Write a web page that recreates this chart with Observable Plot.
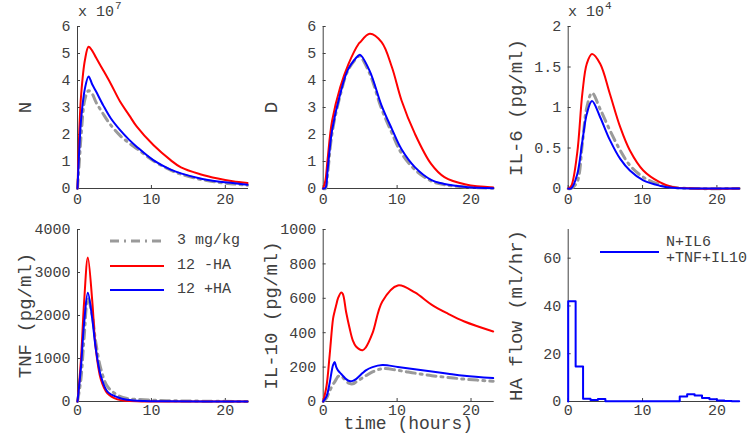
<!DOCTYPE html>
<html><head><meta charset="utf-8">
<script src="https://cdn.jsdelivr.net/npm/d3@7"></script>
<script src="https://cdn.jsdelivr.net/npm/@observablehq/plot@0.6"></script>
<style>
body{margin:0;background:#fff;}
#fig{position:relative;width:750px;height:433px;overflow:hidden;font-family:'Liberation Mono',monospace;color:#404040;background:#fff;}
g[aria-label="y-axis label"]{font-size:19px;}
g[aria-label="x-axis label"]{font-size:18px;}
.note{position:absolute;font-size:15px;white-space:nowrap;line-height:18px;}
.note .ex{position:relative;top:-7px;font-size:11px;margin-left:1px;}
.sw{position:absolute;}
</style></head><body><div id="fig"></div>
<script>
// ---------- data ----------
const xTicks = [0, 10, 20];
const seriesNames = ["3 mg/kg", "12 -HA", "12 +HA"];

// N (x 1e7)
const nTime = [0, 0.25, 0.5, 1, 1.5, 2, 2.5, 3.5, 4.5, 5.8, 7, 8, 10.3, 12.6, 14, 16.6, 19, 21, 23];
const n3   = [0, 1.0, 2.0, 3.3, 3.62, 3.5, 3.2, 2.75, 2.35, 1.95, 1.68, 1.48, 1.02, 0.68, 0.53, 0.34, 0.23, 0.17, 0.12];
const n12  = [0, 2.2, 3.5, 4.75, 5.25, 5.1, 4.85, 4.37, 3.88, 3.2, 2.71, 2.3, 1.6, 1.05, 0.78, 0.53, 0.37, 0.27, 0.2];
const n12H = [0, 1.5, 2.6, 3.7, 4.15, 3.85, 3.6, 3.07, 2.6, 2.15, 1.8, 1.55, 1.04, 0.7, 0.56, 0.37, 0.26, 0.2, 0.14];
const nTicks = [0, 1, 2, 3, 4, 5, 6];

// D
const dTime = [0, 0.3, 0.6, 1.2, 2.3, 3.4, 4.8, 5, 6.3, 7.9, 9.3, 10.6, 12.4, 14.6, 16.4, 19.3, 23];
const d3mg = [0, 0, 0.55, 2.05, 3.45, 4.4, 4.9, 4.9, 4.25, 2.95, 2.05, 1.3, 0.7, 0.28, 0.14, 0.05, 0.01];
const d12  = [0, 0.3, 1.1, 2.5, 3.75, 4.6, 5.36, 5.42, 5.73, 5.42, 4.49, 3.26, 2.03, 0.91, 0.42, 0.15, 0.04];
const d12H = [0, 0.02, 0.7, 2.15, 3.5, 4.43, 4.93, 4.95, 4.35, 3.07, 2.2, 1.45, 0.79, 0.32, 0.17, 0.06, 0.01];
const dTicks = [0, 1, 2, 3, 4, 5, 6];

// IL-6 (x 1e4 pg/ml)
const il6Time = [0, 0.4, 1.2, 1.9, 2.5, 3.2, 4.3, 5.6, 7, 8.3, 10.1, 12.3, 14, 17, 23];
const il6_3   = [0, 0, 0.08, 0.55, 1.0, 1.18, 0.98, 0.72, 0.47, 0.285, 0.14, 0.05, 0.015, 0, 0];
const il6_12  = [0, 0.03, 0.43, 1.17, 1.54, 1.66, 1.54, 1.17, 0.757, 0.469, 0.222, 0.078, 0.02, 0, 0];
const il6_12H = [0, 0, 0.17, 0.58, 0.92, 1.08, 0.88, 0.6, 0.365, 0.222, 0.1, 0.035, 0.01, 0, 0];
const il6Ticks = [0, 0.5, 1, 1.5, 2];

// TNF (pg/ml)
const tnfTime = [0, 0.45, 0.9, 1.4, 2.0, 2.45, 3.15, 4.05, 5.4, 6.7, 9, 12, 23];
const tnf3   = [0, 500, 1500, 2400, 2000, 1400, 765, 350, 150, 70, 40, 20, 0];
const tnf12  = [0, 930, 2330, 3350, 2330, 1260, 520, 190, 50, 15, 0, 0, 0];
const tnf12H = [0, 765, 1835, 2530, 1918, 1260, 600, 230, 100, 40, 10, 5, 0];
const tnfTicks = [0, 1000, 2000, 3000, 4000];

// IL-10 (pg/ml)
const il10Time = [0, 0.45, 0.88, 1.33, 1.55, 1.77, 2.0, 2.44, 2.66, 3.1, 3.55, 4.0, 4.44, 5.33, 5.77, 6.67, 8.0, 10.1, 12.4, 14.7, 16.9, 19.1, 23];
const il10_3   = [0, 20, 62, 100, 113, 130, 145, 150, 140, 118, 105, 103, 113, 138, 150, 172, 191, 181, 165, 150, 140, 130, 118];
const il10_12  = [0, 90, 273, 480, 525, 562, 600, 634, 625, 520, 430, 356, 320, 298, 315, 397, 582, 675, 634, 562, 510, 465, 407];
const il10_12H = [0, 30, 109, 212, 229, 200, 181, 160, 150, 130, 119, 120, 130, 165, 181, 200, 212, 201, 188, 175, 162, 150, 136];
const il10Ticks = [0, 200, 400, 600, 800, 1000];

// HA flow (ml/hr), hourly steps
const haHours = [0, 0, 1, 2, 3, 4, 5, 6, 7, 8, 9, 10, 11, 12, 13, 14, 15, 16, 17, 18, 19, 20, 21, 22, 23];
const haFlow  = [0, 42, 14.6, 1.2, 0.6, 1.0, 0.1, 0.1, 0.1, 0.1, 0.1, 0.1, 0.1, 0.1, 0.1, 0.1, 2.1, 3.0, 2.5, 1.5, 0.9, 0.45, 0.2, 0.1, 0.1];
const haTicks = [0, 20, 40, 60];
const haLegend = ["N+IL6", "+TNF+IL10"];

// ---------- drawing ----------
const GRAY = "#9a9a9a", RED = "#ff0000", BLUE = "#0000ff";
const DASH = "9,5,2,5";
const CURVE = "catmull-rom";
const fig = document.getElementById("fig");
const fmt = d => String(d);

function rows(t, v) { return t.map((x, i) => ({t: x, v: v[i]})); }
function trio(t, a, b, c) {
  return [
    Plot.line(rows(t, a), {x: "t", y: "v", stroke: GRAY, strokeWidth: 3, strokeDasharray: DASH, curve: CURVE}),
    Plot.line(rows(t, b), {x: "t", y: "v", stroke: RED, strokeWidth: 2, curve: CURVE}),
    Plot.line(rows(t, c), {x: "t", y: "v", stroke: BLUE, strokeWidth: 2, curve: CURVE})
  ];
}

function panel(c) {
  const svg = Plot.plot({
    width: c.w, height: c.h,
    marginLeft: c.ml, marginRight: c.mr, marginTop: c.mt, marginBottom: c.mb,
    style: {fontFamily: "'Liberation Mono', monospace", fontSize: "15px", color: "#404040", background: "transparent", overflow: "visible"},
    x: {domain: [0, 23], ticks: xTicks, tickFormat: fmt, tickSize: -3, tickPadding: c.xPad, line: true,
        label: c.xLabel || null, labelAnchor: "center", labelOffset: 27, labelArrow: "none"},
    y: {domain: c.yDomain, ticks: c.yTicks, tickFormat: fmt, tickSize: -3, tickPadding: 10, line: true,
        label: c.yLabel, labelAnchor: "center", labelOffset: 60, labelArrow: "none"},
    marks: c.marks
  });
  svg.style.position = "absolute";
  svg.style.left = c.left + "px";
  svg.style.top = c.top + "px";
  fig.appendChild(svg);
}

const rowTop = {top: 0, h: 210, mt: 26, mb: 22, xPad: 8};
const rowBot = {top: 210, h: 223, mt: 19, mb: 32, xPad: 6};
const col1 = {left: 0, w: 250, ml: 77, mr: 3};
const col2 = {left: 250, w: 250, ml: 72.7, mr: 7.3};
const col3 = {left: 500, w: 250, ml: 67.7, mr: 11.3};

panel({...rowTop, ...col1, yDomain: [0, 6], yTicks: nTicks, yLabel: "N", marks: trio(nTime, n3, n12, n12H)});
panel({...rowTop, ...col2, yDomain: [0, 6], yTicks: dTicks, yLabel: "D", marks: trio(dTime, d3mg, d12, d12H)});
panel({...rowTop, ...col3, yDomain: [0, 2], yTicks: il6Ticks, yLabel: "IL-6 (pg/ml)", marks: trio(il6Time, il6_3, il6_12, il6_12H)});
panel({...rowBot, ...col1, yDomain: [0, 4000], yTicks: tnfTicks, yLabel: "TNF (pg/ml)", marks: trio(tnfTime, tnf3, tnf12, tnf12H)});
panel({...rowBot, ...col2, yDomain: [0, 1000], yTicks: il10Ticks, yLabel: "IL-10 (pg/ml)", xLabel: "time (hours)", marks: trio(il10Time, il10_3, il10_12, il10_12H)});
panel({...rowBot, ...col3, yDomain: [0, 72], yTicks: haTicks, yLabel: "HA flow (ml/hr)",
  marks: [Plot.line(rows(haHours, haFlow), {x: "t", y: "v", stroke: BLUE, strokeWidth: 2, curve: "step-after"})]});

// exponent notes
function note(left, topPx, base, ex) {
  const d = document.createElement("div");
  d.className = "note";
  d.style.left = left + "px"; d.style.top = topPx + "px";
  d.innerHTML = base + '<span class="ex">' + ex + '</span>';
  fig.appendChild(d);
}
note(78, 4, "x 10", "7");
note(568, 4, "x 10", "4");

// legends
function swatch(left, cy, len, color, width, dash) {
  const ns = "http://www.w3.org/2000/svg";
  const s = document.createElementNS(ns, "svg");
  s.setAttribute("width", len); s.setAttribute("height", 16);
  s.setAttribute("class", "sw");
  s.style.left = left + "px"; s.style.top = (cy - 8) + "px";
  const l = document.createElementNS(ns, "line");
  l.setAttribute("x1", 0); l.setAttribute("x2", len); l.setAttribute("y1", 8); l.setAttribute("y2", 8);
  l.setAttribute("stroke", color); l.setAttribute("stroke-width", width);
  if (dash) l.setAttribute("stroke-dasharray", dash);
  s.appendChild(l);
  fig.appendChild(s);
}
function label(left, cy, txt) {
  const d = document.createElement("div");
  d.className = "note";
  d.style.left = left + "px"; d.style.top = (cy - 9) + "px";
  d.textContent = txt;
  fig.appendChild(d);
}
const legColors = [[GRAY, 3, DASH], [RED, 2, null], [BLUE, 2, null]];
seriesNames.forEach((name, i) => {
  const cy = 241 + i * 24.5;
  swatch(110, cy, 54, legColors[i][0], legColors[i][1], legColors[i][2]);
  label(177, cy, name);
});
swatch(600, 252, 59, BLUE, 2, null);
label(666, 243, haLegend[0]);
label(666, 259, haLegend[1]);
</script></body></html>
